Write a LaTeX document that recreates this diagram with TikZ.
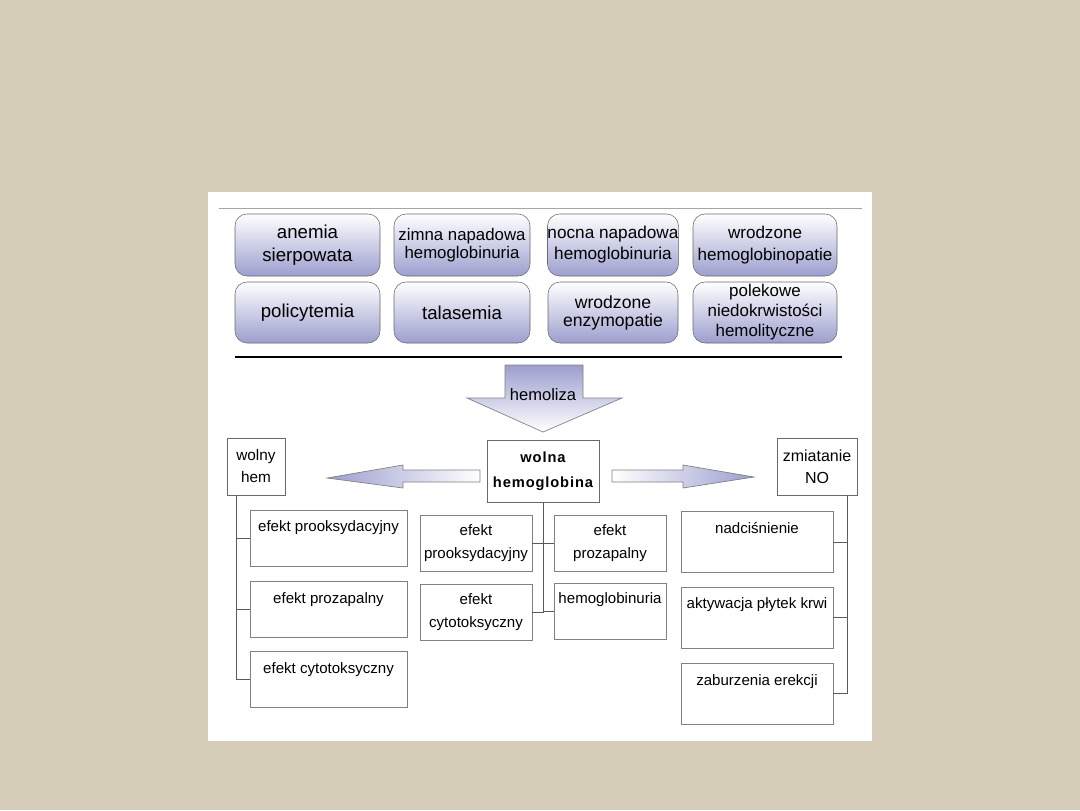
\documentclass[tikz,border=0pt]{standalone}
\usepackage{fontspec}
\setmainfont{Liberation Sans}
\newfontfamily\spacedfont[LetterSpace=6]{Liberation Sans}
\usetikzlibrary{positioning}

\definecolor{linen}{RGB}{214,205,184}
\definecolor{lavender}{RGB}{156,158,206}
\definecolor{boxline}{RGB}{105,105,105}
\definecolor{treeline}{RGB}{90,90,90}

\newcommand{\fs}[2]{\fontsize{#1}{#2}\selectfont}

\begin{document}
\begin{tikzpicture}[
  x=0.75pt, y=-0.75pt,
  cause/.style={draw=boxline, rounded corners=9pt, top color=white,
                bottom color=lavender, align=center, inner sep=0pt},
  effect/.style={draw=gray, fill=white, inner sep=0pt, align=center},
  effecttxt/.style={font=\fs{11.3}{17}, align=center, inner sep=0pt},
  blockarr/.style={draw=gray, line width=0.5pt},
  tree/.style={draw=treeline, line width=0.6pt},
]
% --- page and panel ---
\fill[linen] (0,0) rectangle (1080,810);
\fill[white] (208,192) rectangle (872,741);
\draw[gray!70, line width=0.6pt] (219,208) -- (862,208);
\draw[black, line width=1.7pt] (235,357) -- (842,357);

% --- causes of haemolysis ---
\node[cause, minimum width=108.75pt, minimum height=46.5pt, font=\fs{14}{17.25}]
  (anemia) at (307.5,245) {anemia\\sierpowata};
\node[cause, minimum width=102pt, minimum height=46.5pt, font=\fs{12.6}{13.5}]
  (zimna) at (462,245) {zimna napadowa\\hemoglobinuria};
\node[cause, minimum width=97.5pt, minimum height=46.5pt, font=\fs{12.9}{15.75}]
  (nocna) at (613,245) {nocna napadowa\\hemoglobinuria};
\node[cause, minimum width=108pt, minimum height=46.5pt, font=\fs{12.8}{16.5}]
  (hemopat) at (765,245) {wrodzone\\hemoglobinopatie};
\node[cause, minimum width=108.75pt, minimum height=45.75pt, font=\fs{14}{17}]
  (policyt) at (307.5,312.5) {policytemia};
\node[cause, minimum width=102pt, minimum height=45.75pt, font=\fs{14}{17}]
  (talas) at (462,312.5) {talasemia};
\node[cause, minimum width=97.5pt, minimum height=45.75pt, font=\fs{13.2}{13.5}]
  (enzym) at (613,312.5) {wrodzone\\enzymopatie};
\node[cause, minimum width=108pt, minimum height=45.75pt, font=\fs{12.7}{15}]
  (polek) at (765,312.5) {polekowe\\niedokrwisto\'sci\\hemolityczne};

% --- hemoliza arrow ---
\path[blockarr, top color=lavender, bottom color=white]
  (505,365) -- (583,365) -- (583,398) -- (622,398) -- (543,432)
  -- (467,398) -- (505,398) -- cycle;
\node[font=\fs{12.4}{14}, inner sep=0pt] (hemoliza) at (543,395) {hemoliza};

% --- free haemoglobin and its two products ---
\node[effect, draw=boxline, minimum width=84pt, minimum height=46.5pt,
      font=\spacedfont\bfseries\fs{11}{18.75}] (hb) at (543,471) {wolna\\hemoglobina};
\node[effect, draw=boxline, minimum width=43.5pt, minimum height=42.75pt,
      font=\fs{11.5}{16.5}] (hem) at (256,466.5) {wolny\\hem};
\node[effect, draw=boxline, minimum width=60pt, minimum height=42.75pt,
      font=\fs{12}{16.5}] (no) at (817,466.5) {zmiatanie\\NO};

\path[blockarr, left color=lavender, right color=white]
  (480,470) -- (403,470) -- (403,465) -- (327,478) -- (403,488)
  -- (403,482) -- (480,482) -- cycle;
\path[blockarr, left color=white, right color=lavender]
  (612,470) -- (683,470) -- (683,465) -- (754,477) -- (683,488)
  -- (683,482) -- (612,482) -- cycle;

% --- wolny hem: effects ---
\node[effect, minimum width=117.75pt, minimum height=42pt] (lp1) at (328.5,538) {};
\node[effect, minimum width=117.75pt, minimum height=42pt] (lp2) at (328.5,609) {};
\node[effect, minimum width=117.75pt, minimum height=42pt] (lp3) at (328.5,679.5) {};
\node[effecttxt] (lp1t) at ([yshift=-13.5pt]lp1.north) {efekt prooksydacyjny};
\node[effecttxt] (lp2t) at ([yshift=-14pt]lp2.north) {efekt prozapalny};
\node[effecttxt] (lp3t) at ([yshift=-13.5pt]lp3.north) {efekt cytotoksyczny};

% --- wolna hemoglobina: effects ---
\node[effect, minimum width=84pt, minimum height=42pt, font=\fs{11.3}{17.25}]
  (mp1) at (476,543) {efekt\\prooksydacyjny};
\node[effect, minimum width=84pt, minimum height=42pt, font=\fs{11.3}{17.25}]
  (mp2) at (476,612) {efekt\\cytotoksyczny};
\node[effect, minimum width=84pt, minimum height=42pt, font=\fs{11.3}{17.25}]
  (mr1) at (610,543.5) {efekt\\prozapalny};
\node[effect, minimum width=84pt, minimum height=42pt] (mr2) at (610,611.5) {};
\node[effecttxt] (mr2t) at ([yshift=-12pt]mr2.north) {hemoglobinuria};

% --- zmiatanie NO: effects ---
\node[effect, minimum width=114pt, minimum height=45.75pt] (rp1) at (757,542) {};
\node[effect, minimum width=114pt, minimum height=45.75pt] (rp2) at (757,617.5) {};
\node[effect, minimum width=114pt, minimum height=45.75pt] (rp3) at (757,693.5) {};
\node[effecttxt] (rp1t) at ([yshift=-12.75pt]rp1.north) {nadci\'snienie};
\node[effecttxt] (rp2t) at ([yshift=-13.5pt]rp2.north) {aktywacja p\l ytek krwi};
\node[effecttxt] (rp3t) at ([yshift=-14pt]rp3.north) {zaburzenia erekcji};

% --- tree wiring ---
\draw[tree] ([xshift=7.5pt]hem.south west) |- (lp1.west);
\draw[tree] ([xshift=7.5pt]hem.south west) |- (lp2.west);
\draw[tree] ([xshift=7.5pt]hem.south west) |- (lp3.west);
\draw[tree] (hb.south) |- (mp1.east);
\draw[tree] (hb.south) |- (mp2.east);
\draw[tree] (hb.south) |- (mr1.west);
\draw[tree] (hb.south) |- (mr2.west);
\draw[tree] ([xshift=-7.5pt]no.south east) |- (rp1.east);
\draw[tree] ([xshift=-7.5pt]no.south east) |- (rp2.east);
\draw[tree] ([xshift=-7.5pt]no.south east) |- (rp3.east);
\end{tikzpicture}
\end{document}
